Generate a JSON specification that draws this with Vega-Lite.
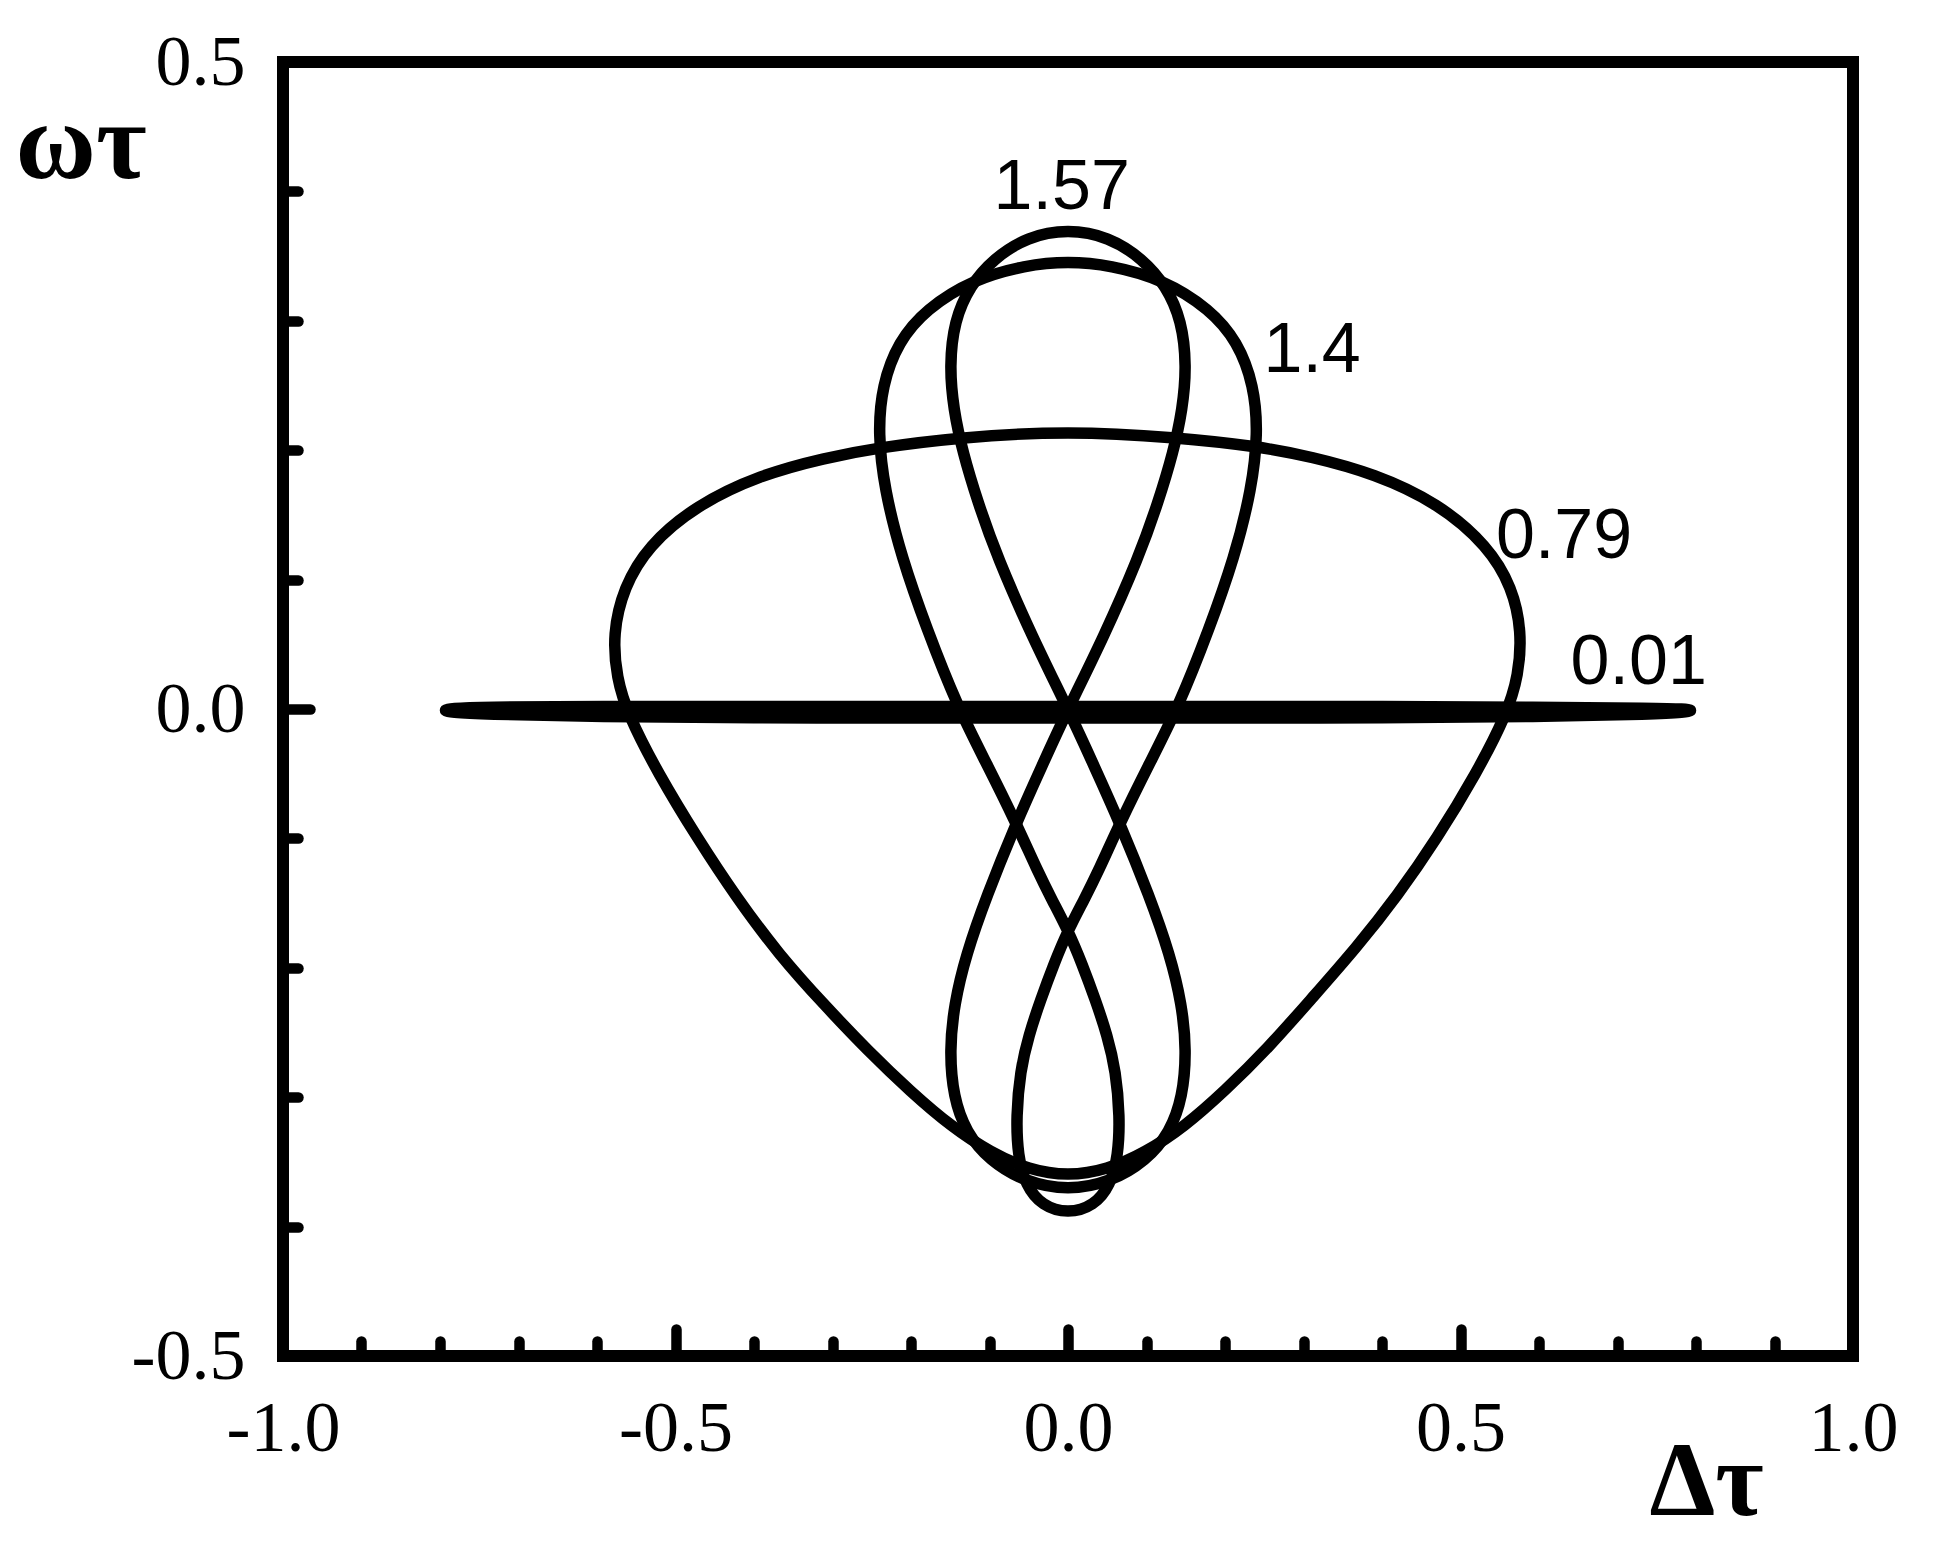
{
  "$schema": "https://vega.github.io/schema/vega-lite/v6.json",
  "width": 1570,
  "height": 1294,
  "autosize": {"type": "none"},
  "padding": {"left": 283, "top": 62, "right": 84, "bottom": 210},
  "background": "white",
  "config": {
    "view": {"stroke": "black", "strokeWidth": 12},
    "axis": {"grid": false, "domain": false}
  },
  "datasets": {
    "curves": [
      {"c": "0.79", "i": 1, "x": 0, "y": 0.215},
      {"c": "0.79", "i": 2, "x": -0.138, "y": 0.21},
      {"c": "0.79", "i": 3, "x": -0.242, "y": 0.202},
      {"c": "0.79", "i": 4, "x": -0.31, "y": 0.194},
      {"c": "0.79", "i": 5, "x": -0.392, "y": 0.181},
      {"c": "0.79", "i": 6, "x": -0.475, "y": 0.157},
      {"c": "0.79", "i": 7, "x": -0.535, "y": 0.126},
      {"c": "0.79", "i": 8, "x": -0.566, "y": 0.094},
      {"c": "0.79", "i": 9, "x": -0.58, "y": 0.058},
      {"c": "0.79", "i": 10, "x": -0.575, "y": 0.024},
      {"c": "0.79", "i": 11, "x": -0.561, "y": -0.004},
      {"c": "0.79", "i": 12, "x": -0.522, "y": -0.05},
      {"c": "0.79", "i": 13, "x": -0.472, "y": -0.1},
      {"c": "0.79", "i": 14, "x": -0.422, "y": -0.146},
      {"c": "0.79", "i": 15, "x": -0.368, "y": -0.19},
      {"c": "0.79", "i": 16, "x": -0.31, "y": -0.229},
      {"c": "0.79", "i": 17, "x": -0.255, "y": -0.264},
      {"c": "0.79", "i": 18, "x": -0.2, "y": -0.296},
      {"c": "0.79", "i": 19, "x": -0.148, "y": -0.323},
      {"c": "0.79", "i": 20, "x": -0.098, "y": -0.343},
      {"c": "0.79", "i": 21, "x": -0.05, "y": -0.356},
      {"c": "0.79", "i": 22, "x": 0, "y": -0.361},
      {"c": "0.79", "i": 23, "x": 0.05, "y": -0.356},
      {"c": "0.79", "i": 24, "x": 0.098, "y": -0.343},
      {"c": "0.79", "i": 25, "x": 0.148, "y": -0.323},
      {"c": "0.79", "i": 26, "x": 0.2, "y": -0.295},
      {"c": "0.79", "i": 27, "x": 0.255, "y": -0.262},
      {"c": "0.79", "i": 28, "x": 0.31, "y": -0.224},
      {"c": "0.79", "i": 29, "x": 0.368, "y": -0.184},
      {"c": "0.79", "i": 30, "x": 0.42, "y": -0.144},
      {"c": "0.79", "i": 31, "x": 0.47, "y": -0.1},
      {"c": "0.79", "i": 32, "x": 0.52, "y": -0.05},
      {"c": "0.79", "i": 33, "x": 0.559, "y": -0.004},
      {"c": "0.79", "i": 34, "x": 0.574, "y": 0.026},
      {"c": "0.79", "i": 35, "x": 0.578, "y": 0.06},
      {"c": "0.79", "i": 36, "x": 0.566, "y": 0.094},
      {"c": "0.79", "i": 37, "x": 0.535, "y": 0.126},
      {"c": "0.79", "i": 38, "x": 0.472, "y": 0.159},
      {"c": "0.79", "i": 39, "x": 0.39, "y": 0.182},
      {"c": "0.79", "i": 40, "x": 0.31, "y": 0.195},
      {"c": "0.79", "i": 41, "x": 0.242, "y": 0.203},
      {"c": "0.79", "i": 42, "x": 0.138, "y": 0.21},

      {"c": "1.57", "i": 1, "x": 0, "y": 0},
      {"c": "1.57", "i": 2, "x": 0.045, "y": 0.055},
      {"c": "1.57", "i": 3, "x": 0.09, "y": 0.117},
      {"c": "1.57", "i": 4, "x": 0.115, "y": 0.16},
      {"c": "1.57", "i": 5, "x": 0.134, "y": 0.198},
      {"c": "1.57", "i": 6, "x": 0.146, "y": 0.232},
      {"c": "1.57", "i": 7, "x": 0.151, "y": 0.265},
      {"c": "1.57", "i": 8, "x": 0.145, "y": 0.3},
      {"c": "1.57", "i": 9, "x": 0.125, "y": 0.327},
      {"c": "1.57", "i": 10, "x": 0.095, "y": 0.348},
      {"c": "1.57", "i": 11, "x": 0.052, "y": 0.365},
      {"c": "1.57", "i": 12, "x": 0, "y": 0.371},
      {"c": "1.57", "i": 13, "x": -0.052, "y": 0.365},
      {"c": "1.57", "i": 14, "x": -0.095, "y": 0.348},
      {"c": "1.57", "i": 15, "x": -0.125, "y": 0.327},
      {"c": "1.57", "i": 16, "x": -0.145, "y": 0.3},
      {"c": "1.57", "i": 17, "x": -0.151, "y": 0.265},
      {"c": "1.57", "i": 18, "x": -0.146, "y": 0.232},
      {"c": "1.57", "i": 19, "x": -0.134, "y": 0.198},
      {"c": "1.57", "i": 20, "x": -0.115, "y": 0.16},
      {"c": "1.57", "i": 21, "x": -0.09, "y": 0.117},
      {"c": "1.57", "i": 22, "x": -0.045, "y": 0.055},
      {"c": "1.57", "i": 23, "x": 0, "y": 0},
      {"c": "1.57", "i": 24, "x": 0.034, "y": -0.045},
      {"c": "1.57", "i": 25, "x": 0.066, "y": -0.088},
      {"c": "1.57", "i": 26, "x": 0.104, "y": -0.145},
      {"c": "1.57", "i": 27, "x": 0.13, "y": -0.19},
      {"c": "1.57", "i": 28, "x": 0.145, "y": -0.228},
      {"c": "1.57", "i": 29, "x": 0.151, "y": -0.264},
      {"c": "1.57", "i": 30, "x": 0.146, "y": -0.3},
      {"c": "1.57", "i": 31, "x": 0.13, "y": -0.327},
      {"c": "1.57", "i": 32, "x": 0.1, "y": -0.349},
      {"c": "1.57", "i": 33, "x": 0.053, "y": -0.366},
      {"c": "1.57", "i": 34, "x": 0, "y": -0.372},
      {"c": "1.57", "i": 35, "x": -0.053, "y": -0.366},
      {"c": "1.57", "i": 36, "x": -0.1, "y": -0.349},
      {"c": "1.57", "i": 37, "x": -0.13, "y": -0.327},
      {"c": "1.57", "i": 38, "x": -0.146, "y": -0.3},
      {"c": "1.57", "i": 39, "x": -0.151, "y": -0.264},
      {"c": "1.57", "i": 40, "x": -0.145, "y": -0.228},
      {"c": "1.57", "i": 41, "x": -0.13, "y": -0.19},
      {"c": "1.57", "i": 42, "x": -0.104, "y": -0.145},
      {"c": "1.57", "i": 43, "x": -0.066, "y": -0.088},
      {"c": "1.57", "i": 44, "x": -0.034, "y": -0.045},

      {"c": "1.4", "i": 1, "x": 0, "y": -0.171},
      {"c": "1.4", "i": 2, "x": 0.02, "y": -0.148},
      {"c": "1.4", "i": 3, "x": 0.039, "y": -0.125},
      {"c": "1.4", "i": 4, "x": 0.067, "y": -0.087},
      {"c": "1.4", "i": 5, "x": 0.103, "y": -0.043},
      {"c": "1.4", "i": 6, "x": 0.141, "y": 0.002},
      {"c": "1.4", "i": 7, "x": 0.18, "y": 0.062},
      {"c": "1.4", "i": 8, "x": 0.212, "y": 0.117},
      {"c": "1.4", "i": 9, "x": 0.234, "y": 0.17},
      {"c": "1.4", "i": 10, "x": 0.242, "y": 0.213},
      {"c": "1.4", "i": 11, "x": 0.237, "y": 0.25},
      {"c": "1.4", "i": 12, "x": 0.216, "y": 0.284},
      {"c": "1.4", "i": 13, "x": 0.181, "y": 0.309},
      {"c": "1.4", "i": 14, "x": 0.121, "y": 0.332},
      {"c": "1.4", "i": 15, "x": 0.054, "y": 0.343},
      {"c": "1.4", "i": 16, "x": 0, "y": 0.346},
      {"c": "1.4", "i": 17, "x": -0.054, "y": 0.343},
      {"c": "1.4", "i": 18, "x": -0.121, "y": 0.332},
      {"c": "1.4", "i": 19, "x": -0.181, "y": 0.309},
      {"c": "1.4", "i": 20, "x": -0.216, "y": 0.284},
      {"c": "1.4", "i": 21, "x": -0.237, "y": 0.25},
      {"c": "1.4", "i": 22, "x": -0.242, "y": 0.213},
      {"c": "1.4", "i": 23, "x": -0.234, "y": 0.17},
      {"c": "1.4", "i": 24, "x": -0.212, "y": 0.117},
      {"c": "1.4", "i": 25, "x": -0.18, "y": 0.062},
      {"c": "1.4", "i": 26, "x": -0.141, "y": 0.002},
      {"c": "1.4", "i": 27, "x": -0.103, "y": -0.043},
      {"c": "1.4", "i": 28, "x": -0.067, "y": -0.087},
      {"c": "1.4", "i": 29, "x": -0.039, "y": -0.125},
      {"c": "1.4", "i": 30, "x": -0.02, "y": -0.148},
      {"c": "1.4", "i": 31, "x": 0, "y": -0.171},
      {"c": "1.4", "i": 32, "x": 0.018, "y": -0.197},
      {"c": "1.4", "i": 33, "x": 0.035, "y": -0.225},
      {"c": "1.4", "i": 34, "x": 0.05, "y": -0.252},
      {"c": "1.4", "i": 35, "x": 0.061, "y": -0.28},
      {"c": "1.4", "i": 36, "x": 0.066, "y": -0.315},
      {"c": "1.4", "i": 37, "x": 0.064, "y": -0.345},
      {"c": "1.4", "i": 38, "x": 0.054, "y": -0.368},
      {"c": "1.4", "i": 39, "x": 0.033, "y": -0.384},
      {"c": "1.4", "i": 40, "x": 0, "y": -0.39},
      {"c": "1.4", "i": 41, "x": -0.033, "y": -0.384},
      {"c": "1.4", "i": 42, "x": -0.054, "y": -0.368},
      {"c": "1.4", "i": 43, "x": -0.064, "y": -0.345},
      {"c": "1.4", "i": 44, "x": -0.066, "y": -0.315},
      {"c": "1.4", "i": 45, "x": -0.061, "y": -0.28},
      {"c": "1.4", "i": 46, "x": -0.05, "y": -0.252},
      {"c": "1.4", "i": 47, "x": -0.035, "y": -0.225},
      {"c": "1.4", "i": 48, "x": -0.018, "y": -0.197},

      {"c": "0.01", "i": 1, "x": -0.797, "y": -0.001},
      {"c": "0.01", "i": 2, "x": -0.785, "y": 0.0005},
      {"c": "0.01", "i": 3, "x": -0.75, "y": 0.0015},
      {"c": "0.01", "i": 4, "x": -0.6, "y": 0.002},
      {"c": "0.01", "i": 5, "x": -0.4, "y": 0.002},
      {"c": "0.01", "i": 6, "x": -0.2, "y": 0.002},
      {"c": "0.01", "i": 7, "x": 0, "y": 0.002},
      {"c": "0.01", "i": 8, "x": 0.2, "y": 0.002},
      {"c": "0.01", "i": 9, "x": 0.4, "y": 0.002},
      {"c": "0.01", "i": 10, "x": 0.6, "y": 0.0015},
      {"c": "0.01", "i": 11, "x": 0.75, "y": 0.0005},
      {"c": "0.01", "i": 12, "x": 0.785, "y": 0},
      {"c": "0.01", "i": 13, "x": 0.797, "y": -0.001},
      {"c": "0.01", "i": 14, "x": 0.785, "y": -0.0025},
      {"c": "0.01", "i": 15, "x": 0.75, "y": -0.004},
      {"c": "0.01", "i": 16, "x": 0.6, "y": -0.006},
      {"c": "0.01", "i": 17, "x": 0.4, "y": -0.007},
      {"c": "0.01", "i": 18, "x": 0.2, "y": -0.007},
      {"c": "0.01", "i": 19, "x": 0, "y": -0.007},
      {"c": "0.01", "i": 20, "x": -0.2, "y": -0.007},
      {"c": "0.01", "i": 21, "x": -0.4, "y": -0.007},
      {"c": "0.01", "i": 22, "x": -0.6, "y": -0.006},
      {"c": "0.01", "i": 23, "x": -0.75, "y": -0.004},
      {"c": "0.01", "i": 24, "x": -0.785, "y": -0.0025}
    ],
    "labels": [
      {"t": "1.57", "x": -0.008, "y": 0.403},
      {"t": "1.4", "x": 0.311, "y": 0.277},
      {"t": "0.79", "x": 0.632, "y": 0.133},
      {"t": "0.01", "x": 0.727, "y": 0.0355}
    ]
  },
  "layer": [
    {
      "data": {"name": "curves"},
      "mark": {"type": "line", "interpolate": "basis-closed", "stroke": "black", "strokeWidth": 11.5, "strokeJoin": "round", "strokeCap": "round"},
      "encoding": {
        "x": {
          "field": "x", "type": "quantitative",
          "scale": {"domain": [-1, 1], "nice": false, "zero": false},
          "axis": {
            "title": "Δτ",
            "values": [-1, -0.9, -0.8, -0.7, -0.6, -0.5, -0.4, -0.3, -0.2, -0.1, 0, 0.1, 0.2, 0.3, 0.4, 0.5, 0.6, 0.7, 0.8, 0.9, 1],
            "domain": false, "grid": false,
            "tickColor": "black", "tickWidth": 10.5, "tickCap": "round",
            "tickSize": {"condition": {"test": "abs(round(datum.value*10)) % 5 == 0", "value": -27}, "value": -15},
            "labelExpr": "abs(round(datum.value*10)) % 5 == 0 ? replace(format(datum.value, '.1f'), '\u2212', '-') : ''",
            "labelFont": "Liberation Serif", "labelFontSize": 72, "labelColor": "black",
            "labelPadding": 64, "labelFlush": false, "labelOverlap": false, "labelBound": false,
            "titleFont": "Liberation Serif", "titleFontSize": 105, "titleFontWeight": "bold", "titleColor": "black",
            "titleX": 1366, "titleY": 158, "titleAlign": "left", "titleBaseline": "alphabetic", "titleAnchor": null
          }
        },
        "y": {
          "field": "y", "type": "quantitative",
          "scale": {"domain": [-0.5, 0.5], "nice": false, "zero": false},
          "axis": {
            "title": "ωτ",
            "values": [-0.5, -0.4, -0.3, -0.2, -0.1, 0, 0.1, 0.2, 0.3, 0.4, 0.5],
            "domain": false, "grid": false,
            "tickColor": "black", "tickWidth": 10.5, "tickCap": "round",
            "tickSize": {"condition": {"test": "abs(round(datum.value*10)) % 5 == 0", "value": -27}, "value": -15},
            "labelExpr": "abs(round(datum.value*10)) % 5 == 0 ? replace(format(datum.value, '.1f'), '\u2212', '-') : ''",
            "labelFont": "Liberation Serif", "labelFontSize": 72, "labelColor": "black",
            "labelPadding": 65, "labelFlush": false, "labelOverlap": false, "labelBound": false,
            "titleFont": "Liberation Serif", "titleFontSize": 110, "titleFontWeight": "bold", "titleColor": "black",
            "titleAngle": 0, "titleX": -268, "titleY": 115, "titleAlign": "left", "titleBaseline": "alphabetic", "titleAnchor": null
          }
        },
        "detail": {"field": "c", "type": "nominal"},
        "order": {"field": "i", "type": "quantitative"}
      }
    },
    {
      "data": {"name": "labels"},
      "mark": {"type": "text", "font": "Liberation Sans", "fontSize": 70, "align": "center", "baseline": "middle", "color": "black"},
      "encoding": {
        "x": {"field": "x", "type": "quantitative"},
        "y": {"field": "y", "type": "quantitative"},
        "text": {"field": "t"}
      }
    }
  ]
}
